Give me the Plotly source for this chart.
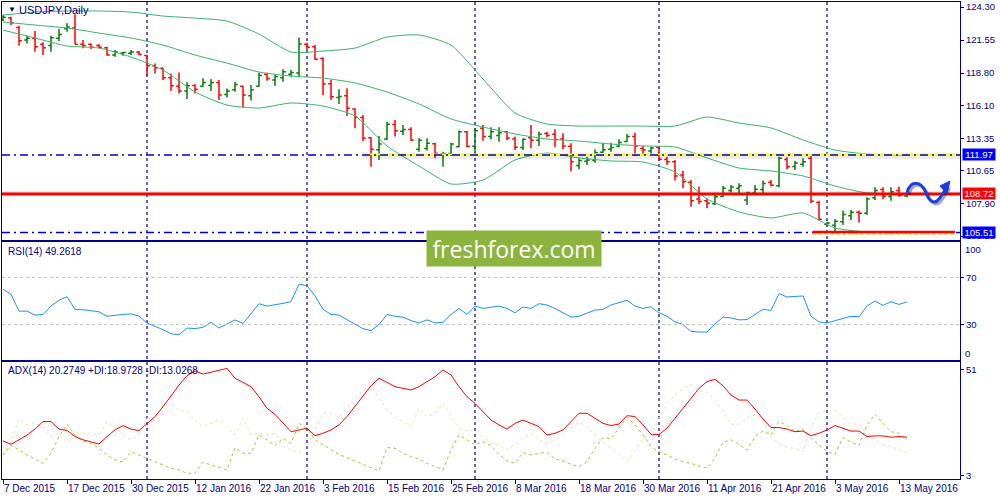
import pandas as pd
import plotly.graph_objects as go
from plotly.subplots import make_subplots

# trading days on the chart (no bar on Christmas / New Year)
HOLIDAYS = ["2015-12-25", "2016-01-01"]
days = pd.bdate_range("2015-12-07", "2016-05-16")
days = days[~days.isin(pd.to_datetime(HOLIDAYS))]
dates = [d.strftime("%Y-%m-%d") for d in days]
date_labels = [f"{d.day} {d.strftime('%b %Y')}" for d in days]

# USDJPY daily bars
open_ = [123.25, 123.40, 122.60, 121.55, 121.70, 121.19, 121.10, 121.70, 122.50, 122.55,
         121.20, 121.20, 121.10, 120.90, 120.30, 120.45, 120.45, 120.55, 120.25, 119.40,
         119.20, 118.40, 117.70, 117.30, 117.75, 117.70, 117.75, 118.00, 117.00, 117.40,
         117.70, 116.90, 117.70, 118.70, 118.22, 118.40, 118.70, 118.80, 121.20, 121.00,
         120.00, 117.90, 116.75, 116.90, 115.80, 115.10, 113.40, 112.40, 113.30, 114.50,
         113.95, 114.10, 112.44, 112.50, 112.90, 112.05, 112.10, 112.65, 113.90, 112.70,
         114.20, 113.50, 113.60, 113.90, 113.30, 112.60, 113.40, 113.20, 113.75, 113.70,
         113.30, 112.70, 111.10, 111.45, 111.50, 112.20, 112.45, 112.70, 113.10, 113.50,
         112.50, 112.30, 112.60, 111.60, 111.40, 110.30, 109.70, 108.30, 108.15, 107.90,
         108.50, 109.00, 109.20, 108.22, 108.80, 109.10, 109.70, 109.40, 111.60, 111.00,
         111.20, 111.70, 108.00, 106.20, 106.10, 106.40, 106.90, 107.20, 107.10, 108.40,
         109.10, 108.50, 109.00, 108.55]
high = [123.63, 123.49, 122.75, 121.91, 122.30, 121.36, 121.91, 122.47, 122.94, 123.69,
        121.55, 121.27, 121.19, 120.99, 120.72, 120.58, 120.72, 120.63, 120.30, 119.60,
        119.24, 118.77, 118.85, 118.02, 117.86, 118.36, 118.30, 118.22, 117.50, 118.08,
        117.72, 117.80, 118.83, 118.83, 118.63, 119.11, 119.05, 121.77, 121.33, 121.13,
        120.11, 118.22, 117.44, 117.52, 115.86, 115.30, 113.44, 113.55, 114.74, 114.88,
        114.47, 114.27, 113.36, 113.36, 112.99, 112.24, 112.99, 114.00, 113.97, 114.19,
        114.47, 114.27, 114.27, 113.97, 113.50, 113.36, 114.47, 113.91, 113.91, 114.11,
        113.77, 112.94, 111.69, 111.83, 112.44, 112.94, 112.99, 113.27, 113.72, 113.83,
        112.72, 112.66, 112.72, 111.83, 111.55, 110.66, 109.88, 109.33, 108.36, 108.77,
        109.38, 109.47, 109.61, 108.91, 109.47, 109.83, 109.88, 111.83, 111.77, 111.49,
        111.69, 111.88, 108.16, 106.41, 106.61, 107.33, 107.38, 107.33, 108.44, 109.27,
        109.27, 109.27, 109.33, 108.77]
low = [123.13, 122.80, 121.07, 121.27, 120.58, 120.30, 120.58, 121.47, 122.24, 121.19,
       120.86, 120.80, 120.86, 120.24, 120.16, 120.24, 120.30, 120.30, 118.58, 118.77,
       118.22, 117.30, 117.10, 116.63, 117.10, 117.66, 117.30, 116.55, 116.75, 117.24,
       115.94, 116.50, 117.66, 118.16, 117.72, 118.08, 118.50, 118.50, 120.72, 119.88,
       116.97, 116.55, 116.22, 115.22, 114.19, 113.13, 110.99, 111.55, 113.22, 113.50,
       113.63, 113.13, 112.24, 112.35, 111.69, 110.99, 111.88, 112.61, 112.61, 112.11,
       113.16, 113.27, 113.08, 113.22, 112.38, 112.38, 112.52, 112.72, 113.44, 112.61,
       112.44, 110.58, 110.77, 111.13, 111.33, 112.16, 112.24, 112.61, 113.08, 111.88,
       111.97, 111.97, 111.49, 111.13, 109.83, 109.19, 107.66, 107.88, 107.52, 107.80,
       108.44, 108.83, 108.77, 107.80, 108.72, 108.72, 109.33, 109.27, 110.77, 110.72,
       110.99, 107.94, 106.55, 106.05, 105.58, 106.13, 106.55, 106.33, 106.97, 108.22,
       108.27, 108.16, 108.49, 108.44]
close = [123.45, 123.00, 121.50, 121.70, 120.99, 120.91, 121.74, 122.02, 122.63, 121.20,
         121.10, 120.95, 120.95, 120.30, 120.55, 120.50, 120.55, 120.35, 119.40, 119.24,
         118.41, 117.74, 117.30, 117.74, 117.45, 118.00, 118.00, 116.97, 117.30, 117.85,
         116.97, 117.40, 118.60, 118.35, 118.50, 118.90, 118.85, 121.22, 120.95, 119.95,
         117.88, 116.83, 116.85, 115.86, 115.11, 113.36, 112.44, 112.88, 114.52, 113.99,
         114.10, 113.22, 113.20, 112.94, 112.11, 112.10, 112.88, 113.90, 112.70, 113.99,
         113.50, 113.90, 113.83, 113.38, 112.61, 113.27, 113.20, 113.70, 113.60, 113.25,
         112.72, 111.41, 111.50, 111.55, 112.15, 112.40, 112.60, 113.00, 113.50, 112.72,
         112.38, 112.55, 111.61, 111.40, 110.22, 109.74, 108.16, 108.08, 107.94, 108.49,
         109.20, 109.30, 109.40, 108.83, 109.11, 109.60, 109.45, 111.70, 110.99, 111.30,
         111.40, 108.10, 106.60, 106.30, 106.45, 107.00, 107.20, 107.10, 108.30, 109.00,
         108.50, 108.90, 108.60, 108.72]

# Bollinger bands (20), read every 4th bar
bb_idx = list(range(0, 113, 4)) + [113]
bb_upper = [123.63, 123.88, 123.97, 123.97, 123.88, 123.55, 123.38, 123.13, 122.05, 120.55,
            120.63, 120.88, 121.80, 121.97, 121.13, 118.30, 115.47, 114.55, 114.38, 114.38,
            114.38, 114.38, 115.13, 114.63, 114.22, 113.22, 112.38, 112.05, 111.97, 111.97]
bb_mid = [123.05, 122.80, 122.55, 122.13, 121.72, 121.13, 120.30, 119.63, 118.88, 118.55,
          118.38, 117.97, 117.22, 116.22, 114.97, 114.30, 113.72, 113.30, 113.13, 112.88,
          112.72, 112.63, 111.72, 110.88, 110.63, 110.22, 109.38, 108.80, 108.72, 108.72]
bb_lower = [122.38, 121.72, 121.05, 120.88, 120.13, 119.05, 117.22, 116.13, 115.88, 116.30,
            116.05, 115.22, 112.72, 111.05, 109.55, 109.88, 111.55, 112.13, 111.72, 111.47,
            111.38, 110.55, 108.30, 107.22, 106.72, 107.13, 105.88, 105.55, 105.47, 105.47]

rsi = [60.0, 55.7, 41.4, 41.4, 38.0, 38.6, 45.7, 50.6, 53.7, 42.9,
       42.6, 42.0, 40.9, 37.1, 38.0, 38.6, 39.1, 37.1, 31.4, 28.6,
       25.7, 22.3, 21.4, 27.1, 26.6, 27.7, 32.0, 27.1, 30.6, 34.0,
       30.9, 39.4, 47.7, 45.7, 46.6, 48.0, 49.4, 64.3, 62.9, 54.3,
       42.9, 38.6, 38.0, 34.3, 30.6, 26.6, 24.9, 30.0, 38.6, 37.1,
       36.3, 33.4, 31.4, 34.0, 31.4, 32.0, 38.6, 43.7, 38.6, 45.7,
       43.7, 44.9, 45.7, 43.7, 40.0, 44.9, 43.7, 47.7, 46.6, 43.7,
       40.0, 36.3, 37.1, 40.0, 42.3, 42.9, 46.6, 48.6, 50.6, 45.7,
       43.7, 45.1, 40.0, 37.1, 32.3, 30.0, 24.3, 23.7, 23.7, 30.6,
       36.3, 35.7, 34.0, 34.3, 38.6, 42.9, 42.0, 56.3, 53.4, 54.0,
       54.3, 37.1, 32.3, 31.4, 33.4, 35.7, 37.1, 36.6, 45.7, 50.0,
       46.3, 49.4, 47.1, 49.26]

adx = [18.6, 17.1, 19.1, 21.3, 24.0, 27.4, 27.4, 24.0, 23.4, 20.6,
       19.1, 18.0, 17.2, 20.6, 23.6, 25.6, 24.0, 23.3, 26.6, 29.7,
       34.2, 39.2, 44.0, 48.3, 50.4, 49.0, 49.8, 50.9, 51.6, 47.1,
       45.3, 43.3, 38.7, 33.4, 30.7, 26.6, 22.8, 23.6, 24.4, 21.0,
       22.1, 23.6, 25.9, 29.7, 34.2, 39.2, 43.7, 47.1, 45.3, 43.3,
       42.5, 41.8, 43.3, 45.6, 47.8, 50.9, 48.6, 43.3, 38.7, 35.7,
       31.9, 28.1, 25.9, 24.0, 26.6, 28.1, 26.6, 25.1, 21.3, 22.1,
       23.6, 27.4, 31.2, 31.2, 28.9, 26.6, 25.6, 26.3, 30.1, 29.7,
       25.9, 21.6, 21.6, 24.4, 28.9, 33.4, 38.0, 42.5, 45.6, 46.6,
       43.7, 39.5, 37.2, 37.2, 33.1, 28.6, 24.7, 24.7, 24.0, 22.8,
       23.1, 21.0, 22.1, 23.6, 25.6, 24.4, 23.1, 23.1, 20.6, 20.9,
       20.9, 20.3, 20.6, 20.27]
plus_di = [12.2, 16.8, 14.5, 12.2, 10.4, 8.4, 13.0, 20.6, 26.2, 21.3,
           18.6, 17.5, 15.3, 12.2, 10.0, 8.9, 13.7, 12.2, 10.4, 8.9,
           7.4, 6.2, 5.4, 3.9, 3.9, 8.9, 7.7, 6.5, 5.4, 15.6,
           13.0, 13.0, 21.3, 19.1, 16.5, 19.8, 17.5, 26.6, 24.4, 19.1,
           16.8, 14.5, 12.5, 11.0, 9.5, 8.0, 6.2, 5.0, 15.6, 15.3,
           13.0, 11.5, 10.4, 8.4, 6.9, 5.4, 14.5, 21.3, 19.1, 16.8,
           18.3, 16.5, 12.5, 9.5, 8.4, 13.4, 12.2, 13.0, 13.4, 10.4,
           9.5, 8.0, 6.9, 9.2, 15.3, 20.1, 19.5, 24.4, 29.3, 25.9,
           21.3, 16.0, 13.7, 12.2, 10.4, 9.2, 8.4, 7.2, 6.2, 10.7,
           18.0, 19.1, 17.1, 14.5, 20.6, 23.1, 21.3, 27.4, 25.6, 22.8,
           24.0, 19.8, 16.8, 13.7, 12.5, 20.1, 18.0, 16.5, 25.9, 30.7,
           26.6, 22.8, 22.1, 18.97]
minus_di = [12.2, 18.3, 28.6, 25.9, 26.6, 25.1, 20.6, 22.1, 18.0, 22.8,
            22.1, 22.1, 21.3, 27.4, 25.1, 21.3, 19.1, 21.3, 28.9, 28.1,
            35.0, 35.7, 32.2, 32.2, 28.1, 25.1, 26.6, 28.1, 25.1, 21.3,
            28.9, 21.3, 22.1, 21.3, 22.1, 16.0, 14.5, 13.0, 16.0, 23.6,
            31.2, 31.2, 29.2, 33.4, 38.0, 41.3, 44.0, 38.0, 32.7, 28.9,
            27.4, 25.1, 33.4, 29.7, 31.2, 35.7, 29.7, 24.4, 23.1, 23.6,
            20.6, 17.5, 16.9, 14.5, 16.8, 19.8, 22.1, 19.1, 17.5, 19.1,
            21.3, 24.4, 27.1, 25.1, 21.3, 18.0, 15.6, 12.2, 9.2, 14.5,
            19.8, 22.1, 28.9, 35.7, 39.5, 42.5, 44.3, 41.3, 40.7, 37.2,
            32.2, 26.2, 26.2, 28.9, 30.7, 28.1, 20.1, 17.5, 15.6, 15.3,
            13.7, 25.1, 31.6, 31.9, 32.7, 29.7, 26.6, 26.2, 22.1, 19.1,
            16.8, 16.0, 14.5, 13.03]

price_ticks = [124.30, 121.55, 118.80, 116.10, 113.35, 110.65, 107.90, 105.20]
support = 105.51
pivot = 108.72
resistance = 111.97

NAVY = "#000080"
FONT = "Liberation Sans"
W, H = 1000, 500
L, R, T, B = 2, 40, 2, 21
PW, PH = W - L - R, H - T - B


def paper(xp, yp):
    # pixel position in the window -> paper coordinates
    return (xp - L) / PW, (H - B - yp) / PH


def dom(top, bottom):
    return [paper(0, bottom)[1], paper(0, top)[1]]


fig = make_subplots(rows=3, cols=1, shared_xaxes=True, vertical_spacing=0.005)

fig.add_trace(go.Ohlc(x=dates, open=open_, high=high, low=low, close=close,
                      tickwidth=0.35,
                      increasing=dict(line=dict(color="#087a08", width=1.5)),
                      decreasing=dict(line=dict(color="#ff0000", width=1.5))),
              row=1, col=1)
bb_x = [dates[i] for i in bb_idx]
for band in (bb_upper, bb_mid, bb_lower):
    fig.add_trace(go.Scatter(x=bb_x, y=band, mode="lines",
                             line=dict(color="#3cb371", width=1, shape="spline", smoothing=0.6)),
                  row=1, col=1)

fig.add_trace(go.Scatter(x=dates, y=rsi, mode="lines",
                         line=dict(color="#1e90ff", width=1)), row=2, col=1)

fig.add_trace(go.Scatter(x=dates, y=minus_di, mode="lines",
                         line=dict(color="#f5deb3", width=1, dash="3px,3px")), row=3, col=1)
fig.add_trace(go.Scatter(x=dates, y=plus_di, mode="lines",
                         line=dict(color="#9acd32", width=1, dash="3px,3px")), row=3, col=1)
fig.add_trace(go.Scatter(x=dates, y=adx, mode="lines",
                         line=dict(color="#ff0000", width=1)), row=3, col=1)

shapes = []
# month separators (MT4 grid)
month_starts = [i for i in range(1, len(dates)) if dates[i][5:7] != dates[i - 1][5:7]]
for i in month_starts:
    shapes.append(dict(type="line", xref="x", yref="paper", x0=i, x1=i, y0=0, y1=1,
                       line=dict(color=NAVY, width=1.2, dash="3px,3px"), layer="below"))

# RSI levels
for lv in (70, 30):
    shapes.append(dict(type="line", xref="paper", yref="y2", x0=0, x1=1, y0=lv, y1=lv,
                       line=dict(color="#c0c0c0", width=1, dash="3px,3px")))

# analyst drawings on the price panel
shapes += [
    dict(type="line", xref="paper", yref="y", x0=0, x1=1, y0=pivot + 0.1, y1=pivot + 0.1,
         line=dict(color="rgba(0,0,0,0.10)", width=3)),
    dict(type="line", xref="paper", yref="y", x0=0, x1=1, y0=pivot, y1=pivot,
         line=dict(color="#ff0000", width=3)),
    dict(type="line", xref="x", yref="y", x0=45, x1=119.7, y0=resistance - 0.12, y1=resistance - 0.12,
         line=dict(color="rgba(0,0,0,0.08)", width=5)),
    dict(type="line", xref="x", yref="y", x0=45, x1=119.7, y0=resistance + 0.05, y1=resistance + 0.05,
         line=dict(color="#ffff00", width=1.5)),
    dict(type="line", xref="paper", yref="y", x0=0, x1=1, y0=resistance, y1=resistance,
         line=dict(color="#0000cd", width=1.5, dash="8px,4px,2px,4px")),
    dict(type="line", xref="paper", yref="y", x0=0, x1=1, y0=support, y1=support,
         line=dict(color="#0000cd", width=1.5, dash="8px,4px,2px,4px")),
    dict(type="line", xref="x", yref="y", x0=101.2, x1=119, y0=support - 0.1, y1=support - 0.1,
         line=dict(color="#e8d000", width=2, dash="3px,3px")),
    dict(type="line", xref="x", yref="y", x0=101.2, x1=119, y0=support + 0.03, y1=support + 0.03,
         line=dict(color="#ff0000", width=2.5)),
]


def path(points, cmd):
    out = []
    for c, pts in zip(cmd, points):
        coords = " ".join(f"{paper(x, y)[0]:.5f},{paper(x, y)[1]:.5f}" for x, y in pts)
        out.append(f"{c} {coords}")
    return " ".join(out)


wave = [[(907, 193)], [(910, 180), (921, 180), (926, 193)], [(930, 203), (935, 204), (939, 199)],
        [(948, 186)]]
wave_cmd = ["M", "C", "C", "L"]
shadow = [[(x + 2, y + 2) for x, y in seg] for seg in wave]
shapes.append(dict(type="path", xref="paper", yref="paper", path=path(shadow, wave_cmd),
                   line=dict(color="rgba(0,0,40,0.35)", width=3)))
shapes.append(dict(type="path", xref="paper", yref="paper", path=path(wave, wave_cmd),
                   line=dict(color="#1c3ce0", width=3)))
head = [[(950, 181)], [(940, 186)], [(947, 194)]]
shapes.append(dict(type="path", xref="paper", yref="paper", path=path(head, ["M", "L", "L"]) + " Z",
                   fillcolor="#1c3ce0", line=dict(color="#1c3ce0", width=1)))

annotations = []


def text_at(xp, yp, text, size=10, color=NAVY, **kw):
    x, y = paper(xp, yp)
    annotations.append(dict(xref="paper", yref="paper", x=x, y=y, text=text, showarrow=False,
                            xanchor="left", yanchor="middle",
                            font=dict(family=FONT, size=size, color=color), **kw))


text_at(6, 10, "▼", size=8)
text_at(17, 10, "USDJPY,Daily", size=11)
text_at(6, 251, "RSI(14) 49.2618")
text_at(6, 370, "ADX(14) 20.2749 +DI:18.9728 -DI:13.0268")
text_at(963, 249, "100", size=9.5)
text_at(963, 353, "0", size=9.5)

for lv, col in ((resistance, "#0000ff"), (pivot, "#ff0000"), (support, "#0000ff")):
    annotations.append(dict(xref="paper", yref="y", x=paper(962, 0)[0], y=lv, text=f"{lv:.2f}",
                            showarrow=False, xanchor="left", yanchor="middle", bgcolor=col,
                            width=32, height=11, borderpad=0,
                            font=dict(family=FONT, size=9.5, color="white")))

wx, wy = paper(514, 248)
annotations.append(dict(xref="paper", yref="paper", x=wx, y=wy, text="freshforex.com",
                        showarrow=False, xanchor="center", yanchor="middle", bgcolor="#8cb43f",
                        width=172, height=33, font=dict(family="Open Sans", size=23, color="white")))

axis_style = dict(showline=True, mirror=True, linecolor=NAVY, linewidth=1, showgrid=False,
                  zeroline=False, automargin=False)
xr = [(L - 3) / 8, (L + PW - 3) / 8]
fig.update_xaxes(type="category", range=xr, ticks="", showticklabels=False, **axis_style)
fig.update_xaxes(ticks="outside", ticklen=4, tickcolor=NAVY, showticklabels=True, tickangle=0,
                 tickvals=dates[::8], ticktext=date_labels[::8], ticklabelposition="outside right",
                 tickfont=dict(family=FONT, size=10, color=NAVY), row=3, col=1)
fig.update_yaxes(side="right", ticks="outside", ticklen=3, tickcolor=NAVY,
                 tickfont=dict(family=FONT, size=9.5, color=NAVY), **axis_style)

fig.update_layout(
    width=W, height=H,
    margin=dict(l=L, r=R, t=T, b=B),
    paper_bgcolor="white", plot_bgcolor="white",
    showlegend=False, hovermode=False,
    xaxis_rangeslider_visible=False,
    yaxis=dict(domain=dom(2, 240), range=[104.88, 124.72], tickvals=price_ticks,
               ticktext=[f"{v:.2f}" for v in price_ticks]),
    yaxis2=dict(domain=dom(242, 360), range=[0, 100], tickvals=[70, 30]),
    yaxis3=dict(domain=dom(362, 479), range=[1.3, 54.5], tickvals=[51, 3]),
    shapes=shapes,
    annotations=annotations,
)

# the page is photographed at 1000x500, so drop the default body margin
fig.write_html("out.html", config={"displayModeBar": False},
               post_script="document.body.style.margin = '0';")
